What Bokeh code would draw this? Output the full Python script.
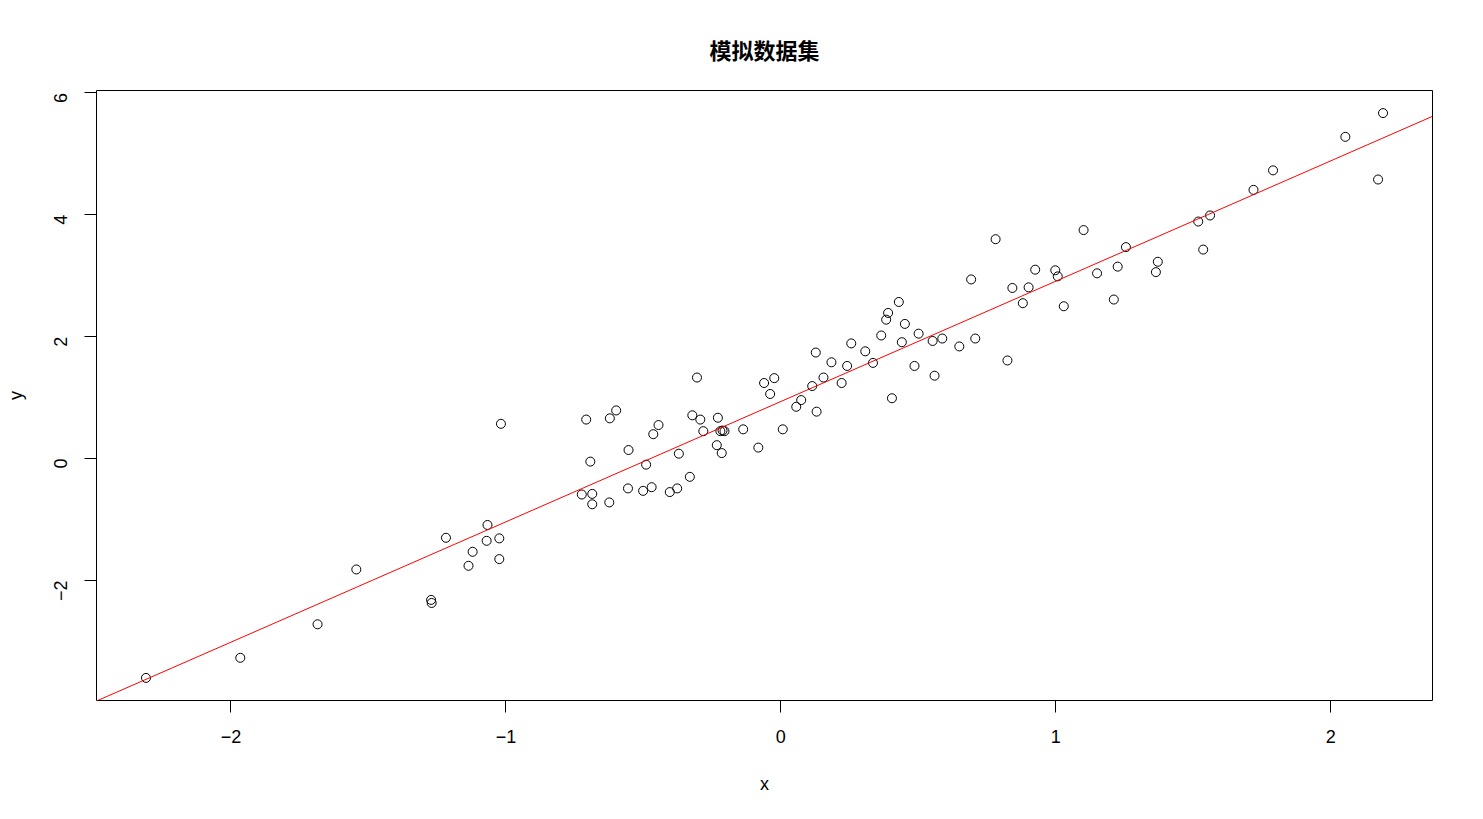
import math
import numpy as np
from bokeh.plotting import figure
from bokeh.models import Range1d, FixedTicker, ColumnDataSource
from bokeh.embed import file_html
from bokeh.resources import INLINE

# Data
x_vals = [-2.309, -1.966, -1.685, -1.544, -1.272, -1.270, -1.218, -1.067, -1.070, -1.121,
          -1.136, -1.024, -1.024, -1.018, -0.708, -0.622, -0.599, -0.693, -0.724, -0.686,
          -0.686, -0.624, -0.554, -0.556, -0.490, -0.501, -0.470, -0.464, -0.445, -0.404,
          -0.377, -0.371, -0.331, -0.322, -0.293, -0.305, -0.282, -0.229, -0.220, -0.205,
          -0.233, -0.215, -0.137, -0.082, -0.024, -0.061, -0.039, 0.007, 0.056, 0.074,
          0.114, 0.130, 0.127, 0.155, 0.184, 0.221, 0.241, 0.256, 0.307, 0.335,
          0.365, 0.383, 0.390, 0.404, 0.429, 0.440, 0.451, 0.486, 0.501, 0.552,
          0.559, 0.587, 0.649, 0.692, 0.707, 0.781, 0.824, 0.842, 0.880, 0.901,
          0.925, 0.998, 1.007, 1.029, 1.101, 1.150, 1.211, 1.225, 1.255, 1.364,
          1.371, 1.518, 1.536, 1.561, 1.719, 1.790, 2.053, 2.172, 2.190, -0.212]
y_vals = [-3.60, -3.27, -2.72, -1.82, -2.32, -2.37, -1.30, -1.09, -1.35, -1.53,
          -1.76, -1.31, -1.65, 0.57, 0.64, 0.66, 0.79, -0.05, -0.59, -0.58,
          -0.75, -0.72, 0.14, -0.49, -0.10, -0.53, -0.47, 0.40, 0.55, -0.55,
          -0.49, 0.08, -0.30, 0.71, 0.64, 1.33, 0.45, 0.67, 0.45, 0.45,
          0.22, 0.09, 0.48, 0.18, 1.32, 1.24, 1.06, 0.48, 0.85, 0.96,
          1.19, 0.77, 1.74, 1.33, 1.58, 1.24, 1.52, 1.89, 1.76, 1.57,
          2.02, 2.28, 2.39, 0.99, 2.57, 1.91, 2.21, 1.52, 2.05, 1.93,
          1.36, 1.97, 1.84, 2.94, 1.97, 3.60, 1.61, 2.80, 2.55, 2.81,
          3.10, 3.09, 2.99, 2.50, 3.75, 3.04, 2.61, 3.15, 3.47, 3.06,
          3.23, 3.89, 3.43, 3.99, 4.41, 4.73, 5.28, 4.58, 5.67, 0.46]

x_ticks = [-2, -1, 0, 1, 2]
y_ticks = [-2, 0, 2, 4, 6]
title_text = "模拟数据集"
x_label = "x"
y_label = "y"

x = np.array(x_vals)
y = np.array(y_vals)
slope, intercept = np.polyfit(x, y, 1)

def pad(a):
    lo, hi = float(np.min(a)), float(np.max(a))
    r = hi - lo
    return lo - 0.04 * r, hi + 0.04 * r

x0, x1 = pad(x)
y0, y1 = pad(y)

p = figure(width=1467, height=803, output_backend="svg", toolbar_location=None,
           x_range=Range1d(x0, x1), y_range=Range1d(y0, y1),
           min_border_left=96, min_border_right=35, min_border_top=90, min_border_bottom=103,
           title=title_text)

p.background_fill_color = "white"
p.border_fill_color = "white"
p.outline_line_color = "black"
p.outline_line_width = 1
p.grid.visible = False

p.title.align = "center"
p.title.text_font = "Noto Sans CJK SC"
p.title.text_font_style = "bold"
p.title.text_font_size = "22px"
p.title.text_color = "black"
p.title.standoff = 52

for ax in (p.xaxis[0], p.yaxis[0]):
    ax.axis_line_color = None
    ax.major_tick_in = 0
    ax.major_tick_out = 12
    ax.major_tick_line_color = "black"
    ax.minor_tick_line_color = None
    ax.major_label_text_font = "Liberation Sans"
    ax.major_label_text_font_size = "18px"
    ax.major_label_text_color = "black"
    ax.axis_label_text_font = "Liberation Sans"
    ax.axis_label_text_font_size = "18px"
    ax.axis_label_text_font_style = "normal"
    ax.axis_label_text_color = "black"

p.xaxis[0].ticker = FixedTicker(ticks=x_ticks)
p.yaxis[0].ticker = FixedTicker(ticks=y_ticks)
p.xaxis[0].axis_label = x_label
p.yaxis[0].axis_label = y_label
p.xaxis[0].major_label_standoff = 17
p.yaxis[0].major_label_standoff = 24
p.yaxis[0].major_label_orientation = math.pi / 2
p.xaxis[0].axis_label_standoff = 28
p.yaxis[0].axis_label_standoff = 19

src = ColumnDataSource(dict(x=x, y=y))
p.scatter("x", "y", source=src, marker="circle", size=9, fill_color=None,
          line_color="black", line_width=1)

lx = [x0, x1]
ly = [intercept + slope * x0, intercept + slope * x1]
p.line(lx, ly, line_color="red", line_width=1)

open("out.html", "w").write(file_html(p, INLINE))
